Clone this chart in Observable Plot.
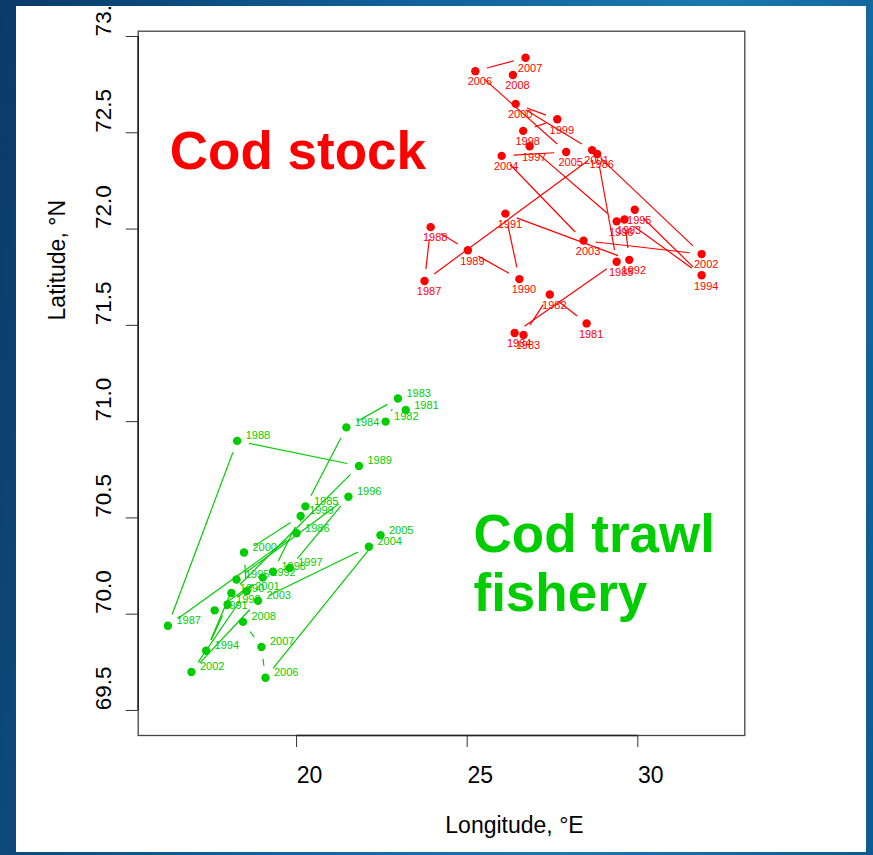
<!DOCTYPE html>
<html><head><meta charset="utf-8">
<script src="https://cdn.jsdelivr.net/npm/d3@7"></script>
<script src="https://cdn.jsdelivr.net/npm/@observablehq/plot@0.6"></script>
<style>
html,body{margin:0;padding:0;width:873px;height:855px;overflow:hidden;}
body{background:linear-gradient(100deg,#0a3a68 0%,#11629a 40%,#1a78ad 70%,#0f5a8e 100%);font-family:"Liberation Sans",Arial,sans-serif;}
#panel{position:absolute;left:16px;top:6px;width:850px;height:846px;background:#fff;overflow:hidden;}
#chart{position:absolute;left:-16px;top:-6px;width:873px;height:855px;}
#chart svg{max-width:none !important;width:873px;height:855px;}
</style></head><body>
<div id="panel"><div id="chart"></div></div>
<script>
const years = [1981,1982,1983,1984,1985,1986,1987,1988,1989,1990,1991,1992,1993,1994,1995,1996,1997,1998,1999,2000,2001,2002,2003,2004,2005,2006,2007,2008];
// Cod stock (red)
const stockLon = [28.50,27.42,26.65,26.39,29.38,28.81,23.75,23.93,25.02,26.53,26.12,29.75,29.61,31.87,29.91,29.38,26.83,26.64,27.64,26.42,28.66,31.87,28.41,26.01,27.90,25.24,26.71,26.34];
const stockLat = [71.51,71.66,71.45,71.46,71.83,72.39,71.73,72.01,71.89,71.74,72.08,71.84,72.05,71.76,72.10,72.04,72.43,72.51,72.57,72.65,72.41,71.87,71.94,72.38,72.40,72.82,72.89,72.80];
// Cod trawl fishery (green)
const fisheryLon = [23.20,22.61,22.97,21.46,20.26,20.00,16.23,18.26,21.83,18.09,17.60,19.01,17.98,17.35,18.24,21.52,19.80,19.31,20.12,18.46,18.54,16.92,18.87,22.12,22.46,19.09,18.97,18.43];
const fisheryLat = [71.06,71.00,71.12,70.97,70.56,70.42,69.94,70.90,70.77,70.11,70.02,70.19,70.05,69.81,70.18,70.61,70.24,70.22,70.51,70.32,70.12,69.70,70.07,70.35,70.41,69.67,69.83,69.96];
const xTicks = [20,25,30];
const yTicks = [69.5,70.0,70.5,71.0,71.5,72.0,72.5,73.0];
const xTitle = "Longitude, °E";
const yTitle = "Latitude, °N";
const stockLabel = "Cod stock";
const fisheryLabel = ["Cod trawl","fishery"];

const RED = "#ff0000", GREEN = "#00cd00";
const xDomain = [15.36, 33.135], yDomain = [69.37, 73.0275];

const pts = (lon, lat) => years.map((y,i)=>({year:y, lon:lon[i], lat:lat[i]}));
const segs = (lon, lat) => years.slice(0,-1).map((y,i)=>({x1:lon[i],y1:lat[i],x2:lon[i+1],y2:lat[i+1]}));
const stock = pts(stockLon, stockLat), fishery = pts(fisheryLon, fisheryLat);

const font = "Liberation Sans, Arial, sans-serif";
const chart = Plot.plot({
  width: 873, height: 855,
  marginLeft: 137.7, marginRight: 128.7, marginTop: 30.7, marginBottom: 120,
  x: {domain: xDomain, axis: null},
  y: {domain: yDomain, axis: null},
  style: {background: "transparent", fontFamily: font, maxWidth: "none"},
  marks: [
    Plot.frame({stroke: "#444", strokeWidth: 1.3}),
    Plot.ruleY([yDomain[0]], {x1: xTicks[0], x2: xTicks[xTicks.length-1], stroke: "#222", strokeWidth: 1.6}),
    Plot.ruleX([xDomain[0]], {y1: yTicks[0], y2: yTicks[yTicks.length-1], stroke: "#222", strokeWidth: 1.6}),
    Plot.axisX(xTicks, {anchor: "bottom", tickSize: 12, tickFormat: () => "", label: null, stroke: "#333"}),
    Plot.axisY(yTicks, {anchor: "left", tickSize: 12, tickFormat: () => "", label: null, stroke: "#333"}),
    Plot.text(xTicks, {x: d => d, frameAnchor: "bottom", dy: 40, dx: 13, fontSize: 23, lineAnchor: "middle", fill: "#000", text: d => String(d)}),
    Plot.text(yTicks, {y: d => d, frameAnchor: "left", dx: -34.7, dy: -22, rotate: -90, fontSize: 22.5, lineAnchor: "middle", textAnchor: "middle", fill: "#000", text: d => d.toFixed(1)}),
    Plot.text([xTitle], {frameAnchor: "bottom", dx: 73, dy: 90, fontSize: 23, lineAnchor: "middle", fill: "#000"}),
    Plot.text([yTitle], {frameAnchor: "left", dx: -80.7, dy: -62.9, rotate: -90, fontSize: 23, lineAnchor: "middle", fill: "#000"}),
    Plot.arrow(segs(stockLon, stockLat), {x1: "x1", y1: "y1", x2: "x2", y2: "y2", stroke: RED, strokeWidth: 1.2, headLength: 0, inset: 12, strokeLinecap: "butt"}),
    Plot.arrow(segs(fisheryLon, fisheryLat), {x1: "x1", y1: "y1", x2: "x2", y2: "y2", stroke: GREEN, strokeWidth: 1.2, headLength: 0, inset: 12, strokeLinecap: "butt"}),
    Plot.dot(stock, {x: "lon", y: "lat", r: 4.2, fill: RED, stroke: "none"}),
    Plot.dot(fishery, {x: "lon", y: "lat", r: 4.2, fill: GREEN, stroke: "none"}),
    Plot.text(stock, {x: "lon", y: "lat", text: d => String(d.year), dx: 4.5, dy: 6.5, lineAnchor: "top", textAnchor: "middle", fontSize: 11, fill: RED}),
    Plot.text(fishery, {x: "lon", y: "lat", text: d => String(d.year), dx: 8.5, dy: -1.5, lineAnchor: "bottom", textAnchor: "start", fontSize: 11, fill: GREEN}),
    Plot.text([stockLabel], {frameAnchor: "top-left", dx: 31.6, dy: 137.3, lineAnchor: "bottom", textAnchor: "start", fontSize: 53, fontWeight: "bold", fill: RED}),
    Plot.text([fisheryLabel[0]], {frameAnchor: "top-left", dx: 335.3, dy: 520.3, lineAnchor: "bottom", textAnchor: "start", fontSize: 53, fontWeight: "bold", fill: GREEN}),
    Plot.text([fisheryLabel[1]], {frameAnchor: "top-left", dx: 335.3, dy: 579.3, lineAnchor: "bottom", textAnchor: "start", fontSize: 53, fontWeight: "bold", fill: GREEN})
  ]
});
document.getElementById("chart").appendChild(chart);
</script>
</body></html>
